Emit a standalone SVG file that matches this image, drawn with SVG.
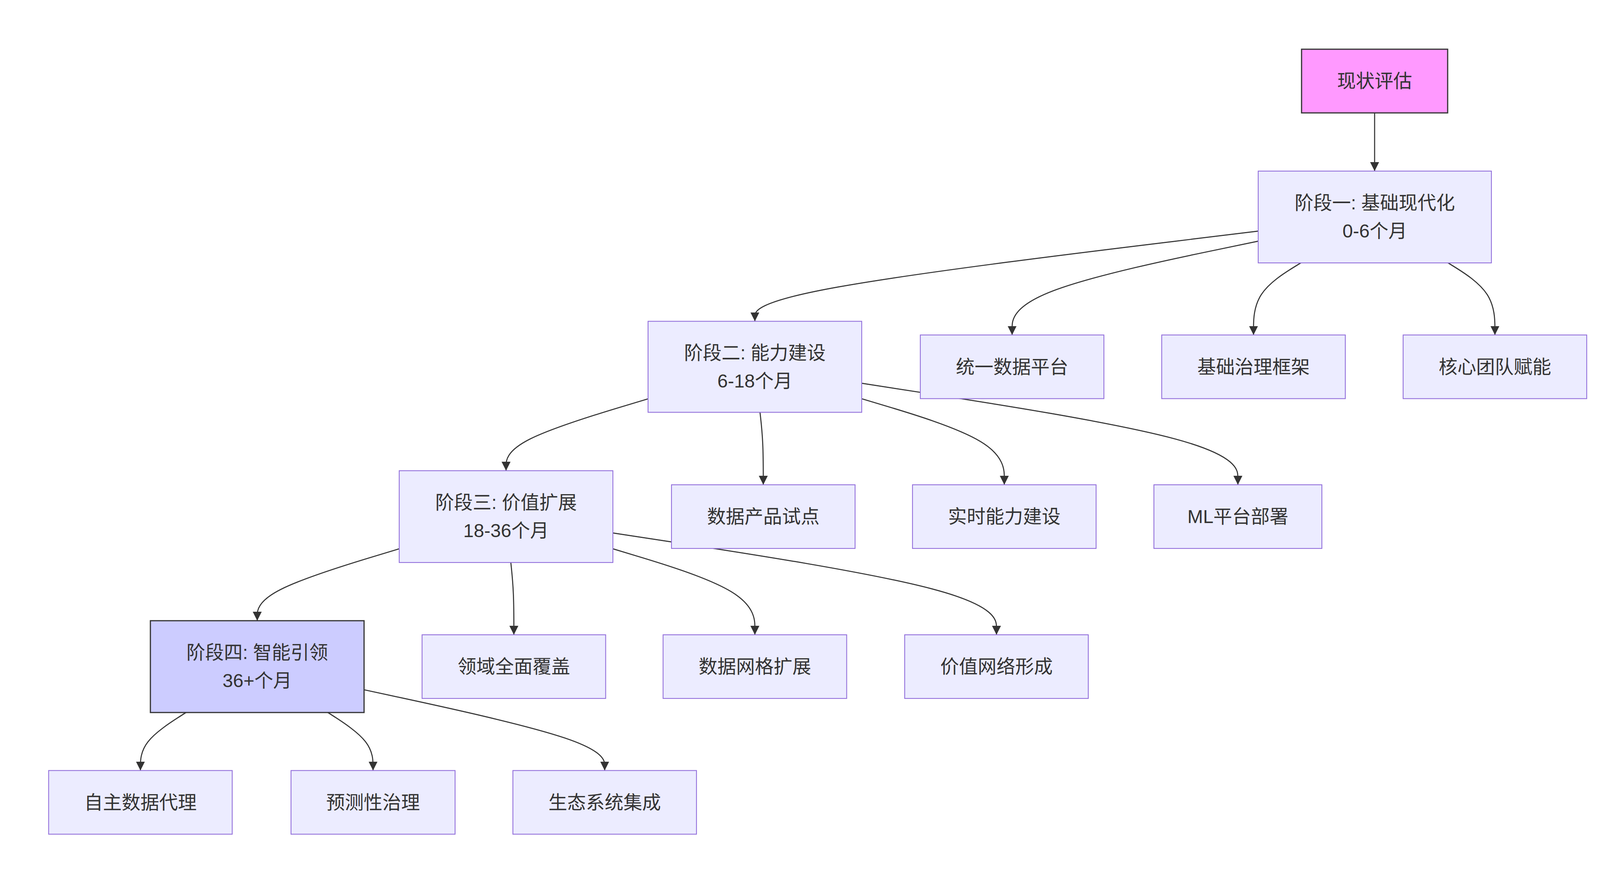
<svg xmlns="http://www.w3.org/2000/svg" width="4188" height="2263" viewBox="0 0 4188 2263">
<style>
.bg{fill:#ffffff}
.leaf rect{fill:#ECECFF;stroke:#9370DB;stroke-width:2.2}
.start rect{fill:#FF99FF;stroke:#333333;stroke-width:3}
.phase4 rect{fill:#CCCCFF;stroke:#333333;stroke-width:3}
text{font-family:"Liberation Sans","Noto Sans CJK SC",sans-serif;font-size:48px;fill:#333333;text-anchor:middle;dominant-baseline:central}
.edges path{fill:none;stroke:#333333;stroke-width:2.7;marker-end:url(#arrow)}
</style>
<defs>
<marker id="arrow" viewBox="0 0 10 10" refX="10" refY="5" markerWidth="23" markerHeight="24" markerUnits="userSpaceOnUse" orient="auto">
<path d="M0,0 L10,5 L0,10 z" fill="#333333"/>
</marker>
</defs>
<rect class="bg" x="0" y="0" width="4188" height="2263"/>
<g id="connectors" class="edges">
<path d="M3519,289 L3519,438"/>
<path d="M3221,591.7 L3006.3,617.8 C2791.5,643.8 2362,695.9 2147.3,734.4 C1932.5,772.8 1932.5,797.7 1932.5,810.1 L1932.5,822.5"/>
<path d="M3221,617.4 L3116,639.2 C3011,660.9 2801,704.5 2696,744.5 C2591,784.5 2591,821 2591,839.3 L2591,857.5"/>
<path d="M3330,673 L3309.8,685.5 C3289.7,698 3249.3,723 3229.2,753.8 C3209,784.5 3209,821 3209,839.3 L3209,857.5"/>
<path d="M3707.2,673 L3727.2,685.5 C3747.1,698 3787.1,723 3807,753.8 C3827,784.5 3827,821 3827,839.3 L3827,857.5"/>
<path d="M1659,1021 L1598.4,1039.2 C1537.8,1057.3 1416.7,1093.7 1356.1,1124.3 C1295.5,1155 1295.5,1180 1295.5,1192.5 L1295.5,1205"/>
<path d="M1945.6,1055.5 L1947,1067.9 C1948.4,1080.3 1951.2,1105.2 1952.6,1136.1 C1954,1167 1954,1204 1954,1222.5 L1954,1241"/>
<path d="M2206,1020.8 L2266.8,1039 C2327.7,1057.2 2449.3,1093.6 2510.2,1130.3 C2571,1167 2571,1204 2571,1222.5 L2571,1241"/>
<path d="M2206,981.2 L2366.5,1006 C2527,1030.8 2848,1080.4 3008.5,1123.7 C3169,1167 3169,1204 3169,1222.5 L3169,1241"/>
<path d="M1022,1404.9 L961.4,1423.2 C900.8,1441.4 779.7,1478 719.1,1508.7 C658.5,1539.3 658.5,1564.2 658.5,1576.6 L658.5,1589"/>
<path d="M1307.7,1440 L1309,1452.4 C1310.3,1464.8 1312.9,1489.7 1314.2,1520.5 C1315.5,1551.3 1315.5,1588.2 1315.5,1606.6 L1315.5,1625"/>
<path d="M1569,1404.9 L1629.6,1423.2 C1690.2,1441.4 1811.3,1478 1871.9,1514.7 C1932.5,1551.3 1932.5,1588.2 1932.5,1606.6 L1932.5,1625"/>
<path d="M1569,1364.3 L1732.7,1389.3 C1896.3,1414.4 2223.7,1464.4 2387.3,1507.9 C2551,1551.3 2551,1588.2 2551,1606.6 L2551,1625"/>
<path d="M476,1824 L456.6,1836.5 C437.2,1849 398.3,1874 378.9,1898.8 C359.5,1923.5 359.5,1948 359.5,1960.3 L359.5,1972.5"/>
<path d="M839.5,1824 L858.8,1836.5 C878,1849 916.5,1874 935.8,1898.8 C955,1923.5 955,1948 955,1960.3 L955,1972.5"/>
<path d="M932,1765.7 L1034.7,1787.9 C1137.3,1810.1 1342.7,1854.6 1445.3,1889 C1548,1923.5 1548,1948 1548,1960.3 L1548,1972.5"/>
</g>
<g id="node-start" class="start">
<rect x="3332" y="126" width="374" height="163"/>
<text x="3519" y="207.5">现状评估</text>
</g>
<g id="node-phase1" class="leaf">
<rect x="3221" y="438" width="597" height="235"/>
<text x="3519.5" y="519.5">阶段一: 基础现代化</text>
<text x="3519.5" y="591.5">0-6个月</text>
</g>
<g id="node-phase2" class="leaf">
<rect x="1659" y="822.5" width="547" height="233"/>
<text x="1932.5" y="903">阶段二: 能力建设</text>
<text x="1932.5" y="975">6-18个月</text>
</g>
<g id="node-phase3" class="leaf">
<rect x="1022" y="1205" width="547" height="235"/>
<text x="1295.5" y="1286.5">阶段三: 价值扩展</text>
<text x="1295.5" y="1358.5">18-36个月</text>
</g>
<g id="node-phase4" class="phase4">
<rect x="385" y="1589" width="547" height="235"/>
<text x="658.5" y="1670.5">阶段四: 智能引领</text>
<text x="658.5" y="1742.5">36+个月</text>
</g>
<g id="node-a1" class="leaf">
<rect x="2356" y="857.5" width="470" height="163"/>
<text x="2591" y="939">统一数据平台</text>
</g>
<g id="node-a2" class="leaf">
<rect x="2974" y="857.5" width="470" height="163"/>
<text x="3209" y="939">基础治理框架</text>
</g>
<g id="node-a3" class="leaf">
<rect x="3592" y="857.5" width="470" height="163"/>
<text x="3827" y="939">核心团队赋能</text>
</g>
<g id="node-b1" class="leaf">
<rect x="1719" y="1241" width="470" height="163"/>
<text x="1954" y="1322.5">数据产品试点</text>
</g>
<g id="node-b2" class="leaf">
<rect x="2336" y="1241" width="470" height="163"/>
<text x="2571" y="1322.5">实时能力建设</text>
</g>
<g id="node-b3" class="leaf">
<rect x="2954" y="1241" width="430" height="163"/>
<text x="3169" y="1322.5">ML平台部署</text>
</g>
<g id="node-c1" class="leaf">
<rect x="1080.5" y="1625" width="470" height="163"/>
<text x="1315.5" y="1706.5">领域全面覆盖</text>
</g>
<g id="node-c2" class="leaf">
<rect x="1697.5" y="1625" width="470" height="163"/>
<text x="1932.5" y="1706.5">数据网格扩展</text>
</g>
<g id="node-c3" class="leaf">
<rect x="2316" y="1625" width="470" height="163"/>
<text x="2551" y="1706.5">价值网络形成</text>
</g>
<g id="node-d1" class="leaf">
<rect x="124.5" y="1972.5" width="470" height="163"/>
<text x="359.5" y="2054">自主数据代理</text>
</g>
<g id="node-d2" class="leaf">
<rect x="745" y="1972.5" width="420" height="163"/>
<text x="955" y="2054">预测性治理</text>
</g>
<g id="node-d3" class="leaf">
<rect x="1313" y="1972.5" width="470" height="163"/>
<text x="1548" y="2054">生态系统集成</text>
</g>
</svg>
